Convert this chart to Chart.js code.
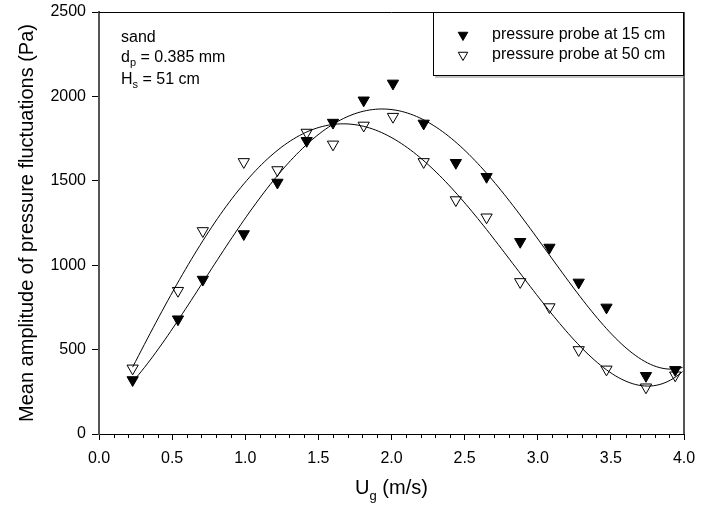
<!DOCTYPE html>
<html>
<head>
<meta charset="utf-8">
<script src="https://cdn.jsdelivr.net/npm/chart.js@4.4.1/dist/chart.umd.min.js"></script>
<style>
  html, body { margin: 0; padding: 0; background: #fff; }
  #caixa { width: 710px; height: 512px; }
</style>
</head>
<body>
<div id="caixa"><canvas id="grafico"></canvas></div>
<script>
// velocidade do gás Ug (m/s), a mesma para as duas sondas
const ug = [0.23, 0.54, 0.71, 0.99, 1.22, 1.42, 1.60, 1.81, 2.01, 2.22, 2.44, 2.65, 2.88, 3.08, 3.28, 3.47, 3.74, 3.94];

// amplitude média das flutuações de pressão (Pa)
const amp15 = [320, 680, 915, 1185, 1490, 1737, 1845, 1977, 2077, 1840, 1607, 1524, 1139, 1105, 898, 750, 345, 380];
const amp50 = [389, 849, 1203, 1612, 1564, 1786, 1716, 1828, 1880, 1612, 1386, 1284, 901, 752, 498, 383, 277, 348];

const nomes = ['pressure probe at 15 cm', 'pressure probe at 50 cm'];

const ticksX = [0, 0.5, 1.0, 1.5, 2.0, 2.5, 3.0, 3.5, 4.0];
const ticksY = [0, 500, 1000, 1500, 2000, 2500];

const GRAU = 4; // grau do polinômio da curva ajustada
const fonte = 'Liberation Sans, Arial, Helvetica, sans-serif';

// mínimos quadrados: devolve os coeficientes c0..cn
function ajustePolinomio(xs, ys, grau) {
  const n = grau + 1;
  const A = [];
  const b = [];
  for (let i = 0; i < n; i++) {
    A.push(new Array(n).fill(0));
    b.push(0);
  }
  xs.forEach(function(x, k) {
    for (let i = 0; i < n; i++) {
      b[i] += ys[k] * Math.pow(x, i);
      for (let j = 0; j < n; j++) A[i][j] += Math.pow(x, i + j);
    }
  });
  // eliminação de Gauss com pivô
  for (let c = 0; c < n; c++) {
    let p = c;
    for (let r = c + 1; r < n; r++) if (Math.abs(A[r][c]) > Math.abs(A[p][c])) p = r;
    [A[c], A[p]] = [A[p], A[c]];
    [b[c], b[p]] = [b[p], b[c]];
    for (let r = c + 1; r < n; r++) {
      const f = A[r][c] / A[c][c];
      for (let j = c; j < n; j++) A[r][j] -= f * A[c][j];
      b[r] -= f * b[c];
    }
  }
  const coef = new Array(n).fill(0);
  for (let i = n - 1; i >= 0; i--) {
    let s = b[i];
    for (let j = i + 1; j < n; j++) s -= A[i][j] * coef[j];
    coef[i] = s / A[i][i];
  }
  return coef;
}

// pontos da curva ajustada, do primeiro Ug até o fim do eixo
function curva(xs, ys) {
  const coef = ajustePolinomio(xs, ys, GRAU);
  const pontos = [];
  for (let x = xs[0]; x <= 4.0001; x += 0.02) {
    let y = 0;
    for (let i = coef.length - 1; i >= 0; i--) y = y * x + coef[i];
    pontos.push({ x: Math.min(x, 4), y: y });
  }
  return pontos;
}

function pares(ys) {
  return ug.map(function(x, i) { return { x: x, y: ys[i] }; });
}

var marcador = {
  pointStyle: 'triangle',
  rotation: 180,
  pointRadius: 6.5,
  pointBorderWidth: 1,
  borderColor: '#000',
  pointBorderColor: '#000',
  showLine: false,
  order: 1
};

var dados = {
  datasets: [
    Object.assign({ label: nomes[0], data: pares(amp15), pointBackgroundColor: '#000', backgroundColor: '#000' }, marcador),
    Object.assign({ label: nomes[1], data: pares(amp50), pointBackgroundColor: '#fff', backgroundColor: '#fff' }, marcador),
    { label: 'fit15', data: curva(ug, amp15), showLine: true, pointRadius: 0, borderColor: '#000', borderWidth: 1, order: 0 },
    { label: 'fit50', data: curva(ug, amp50), showLine: true, pointRadius: 0, borderColor: '#000', borderWidth: 1, order: 0 }
  ]
};

// moldura, ticks menores, legenda, textos e título do eixo x
const extras = {
  id: 'extras',
  afterDraw: function(chart) {
    const ctx = chart.ctx;
    const area = chart.chartArea;
    const sx = chart.scales.x;
    ctx.save();

    // borda de cima e da direita
    ctx.strokeStyle = '#000';
    ctx.lineWidth = 1;
    ctx.beginPath();
    ctx.moveTo(area.left, area.top + 0.5);
    ctx.lineTo(area.right, area.top + 0.5);
    ctx.stroke();
    ctx.strokeStyle = '#555';
    ctx.lineWidth = 2;
    ctx.beginPath();
    ctx.moveTo(area.right, area.top);
    ctx.lineTo(area.right, area.bottom);
    ctx.stroke();

    // ticks menores a cada 0.1
    ctx.strokeStyle = '#000';
    ctx.lineWidth = 1;
    ctx.beginPath();
    for (let k = 1; k < 40; k++) {
      if (k % 5 === 0) continue;
      const px = Math.round(sx.getPixelForValue(k / 10)) + 0.5;
      ctx.moveTo(px, area.bottom);
      ctx.lineTo(px, area.bottom + 4);
    }
    ctx.stroke();

    // caixa da legenda
    const lx = area.right - 251, ly = area.top;
    ctx.fillStyle = '#fff';
    ctx.fillRect(lx, ly, 251, 64);
    ctx.strokeStyle = '#000';
    ctx.lineWidth = 1;
    ctx.strokeRect(lx + 0.5, ly + 0.5, 250, 63);
    ctx.strokeStyle = '#888';
    ctx.beginPath();
    ctx.moveTo(lx + 2, ly + 65);
    ctx.lineTo(lx + 252, ly + 65);
    ctx.stroke();

    ctx.font = '16px ' + fonte;
    ctx.textBaseline = 'middle';
    ctx.textAlign = 'left';
    [0, 1].forEach(function(i) {
      const ds = chart.data.datasets[i];
      const y = ly + 23 + i * 20;
      ctx.fillStyle = ds.pointBackgroundColor;
      ctx.strokeStyle = '#000';
      ctx.lineWidth = 1;
      Chart.helpers.drawPoint(ctx, { pointStyle: 'triangle', rotation: 180, radius: 5.5, borderWidth: 1 }, lx + 30, y);
      ctx.fillStyle = '#000';
      ctx.fillText(ds.label, lx + 59, y);
    });

    // texto com índice (subscrito)
    function comIndice(partes, x, y) {
      partes.forEach(function(p) {
        ctx.font = p.tam + 'px ' + fonte;
        ctx.fillText(p.t, x, p.sub ? y + p.desce : y);
        x += ctx.measureText(p.t).width;
      });
    }

    ctx.fillStyle = '#000';
    ctx.textBaseline = 'alphabetic';
    ctx.font = '16px ' + fonte;
    ctx.fillText('sand', area.left + 22, area.top + 30);
    comIndice([{ t: 'd', tam: 16 }, { t: 'p', tam: 11, sub: true, desce: 4 }, { t: ' = 0.385 mm', tam: 16 }], area.left + 22, area.top + 50);
    comIndice([{ t: 'H', tam: 16 }, { t: 's', tam: 11, sub: true, desce: 4 }, { t: ' = 51 cm', tam: 16 }], area.left + 22, area.top + 72);

    // título do eixo x: Ug (m/s)
    const partesX = [{ t: 'U', tam: 20 }, { t: 'g', tam: 13, sub: true, desce: 6 }, { t: ' (m/s)', tam: 20 }];
    let largura = 0;
    partesX.forEach(function(p) {
      ctx.font = p.tam + 'px ' + fonte;
      largura += ctx.measureText(p.t).width;
    });
    comIndice(partesX, (area.left + area.right) / 2 - largura / 2, 494);

    ctx.restore();
  }
};

var opcoes = {
  responsive: true,
  maintainAspectRatio: false,
  animation: false,
  layout: { padding: { top: 12, right: 26, left: 0, bottom: 0 } },
  plugins: {
    legend: { display: false },
    tooltip: { enabled: false }
  },
  scales: {
    x: {
      type: 'linear',
      min: 0,
      max: 4,
      afterBuildTicks: function(s) { s.ticks = ticksX.map(function(v) { return { value: v }; }); },
      afterFit: function(s) { s.height = 78; s.paddingLeft = 0; s.paddingRight = 0; },
      ticks: {
        color: '#000',
        font: { family: fonte, size: 16 },
        padding: 9,
        maxRotation: 0,
        callback: function(v) { return Number(v).toFixed(1); }
      },
      grid: { display: true, drawOnChartArea: false, drawTicks: true, tickLength: 6, tickColor: '#000', tickWidth: 1 },
      border: { display: true, color: '#000', width: 1 }
    },
    y: {
      type: 'linear',
      min: 0,
      max: 2500,
      afterBuildTicks: function(s) { s.ticks = ticksY.map(function(v) { return { value: v }; }); },
      afterFit: function(s) { s.width = 99; s.paddingTop = 0; s.paddingBottom = 0; },
      ticks: {
        color: '#000',
        font: { family: fonte, size: 16 },
        padding: 6,
        callback: function(v) { return String(v); }
      },
      grid: { display: true, drawOnChartArea: false, drawTicks: true, tickLength: 7, tickColor: '#000', tickWidth: 1 },
      border: { display: true, color: '#555', width: 2 },
      title: {
        display: true,
        text: 'Mean amplitude of pressure fluctuations (Pa)',
        color: '#000',
        font: { family: fonte, size: 20 },
        padding: { top: 15, bottom: 0 }
      }
    }
  }
};

const grafico = new Chart(document.getElementById('grafico'), {
  type: 'scatter',
  data: dados,
  options: opcoes,
  plugins: [extras]
});
</script>
</body>
</html>
